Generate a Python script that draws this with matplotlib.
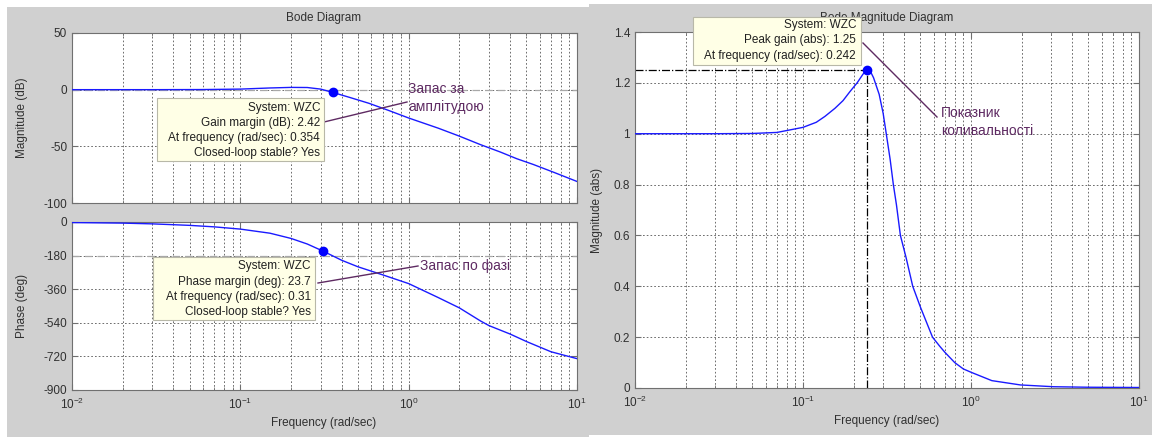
import matplotlib
matplotlib.use("Agg")
import matplotlib.pyplot as plt
from matplotlib.patches import Rectangle
from matplotlib.lines import Line2D
from matplotlib.ticker import FixedLocator, LogLocator, NullFormatter

plt.rcParams['font.family'] = ['Liberation Sans', 'DejaVu Sans']
plt.rcParams['mathtext.fontset'] = 'custom'
plt.rcParams['mathtext.rm'] = 'Liberation Sans'
plt.rcParams['axes.unicode_minus'] = False

# ---------------- data ----------------
mag_freq = [0.01, 0.03, 0.06, 0.1, 0.15, 0.2, 0.25, 0.3, 0.354, 0.45, 0.58, 0.75,
            1.0, 1.5, 2.0, 2.67, 3.5, 4.4, 5.5, 7.3, 10.0]
mag_db = [0, 0, 0.1, 0.5, 1.5, 2.0, 1.9, 0.5, -2.42, -7, -12, -18,
          -25, -34, -41, -48.5, -55, -61, -66, -73, -81]

ph_freq = [0.01, 0.02, 0.03, 0.05, 0.07, 0.1, 0.15, 0.2, 0.25, 0.31, 0.4, 0.5, 0.7,
           1.0, 1.5, 2.0, 2.67, 3.0, 4.0, 5.0, 7.0, 10.0]
ph_deg = [-3, -6, -10, -18, -26, -38, -60, -88, -118, -156, -205, -240, -283,
          -330, -405, -460, -530, -555, -600, -640, -695, -732]

cl_freq = [0.01, 0.03, 0.05, 0.07, 0.1, 0.12, 0.135, 0.155, 0.173, 0.19, 0.21, 0.228,
           0.242, 0.252, 0.263, 0.284, 0.3, 0.313, 0.33, 0.345, 0.36, 0.38, 0.41,
           0.45, 0.5, 0.55, 0.59, 0.65, 0.7, 0.8, 0.9, 1.0, 1.33, 1.97, 3.1, 5.0, 10.0]
cl_abs = [1.0, 1.0, 1.001, 1.005, 1.025, 1.045, 1.068, 1.10, 1.13, 1.165, 1.20, 1.235,
          1.25, 1.245, 1.22, 1.155, 1.08, 1.0, 0.9, 0.80, 0.72, 0.60, 0.515,
          0.40, 0.318, 0.25, 0.20, 0.165, 0.14, 0.10, 0.075, 0.062, 0.029, 0.012, 0.005, 0.003, 0.002]

gm_point = (0.354, -2.42)
pm_point = (0.31, -156.3)
peak_point = (0.242, 1.25)

mag_yticks = [-100, -50, 0, 50]
ph_yticks = [-900, -720, -540, -360, -180, 0]
abs_yticks = [0, 0.2, 0.4, 0.6, 0.8, 1.0, 1.2, 1.4]
abs_yticklabels = ['0', '0.2', '0.4', '0.6', '0.8', '1', '1.2', '1.4']
xticks = [0.01, 0.1, 1, 10]
xticklabels = [r'$10^{-2}$', r'$10^{-1}$', r'$10^{0}$', r'$10^{1}$']

gm_tip = ['System: WZC', 'Gain margin (dB): 2.42', 'At frequency (rad/sec): 0.354', 'Closed-loop stable? Yes']
pm_tip = ['System: WZC', 'Phase margin (deg): 23.7', 'At frequency (rad/sec): 0.31', 'Closed-loop stable? Yes']
pk_tip = ['System: WZC', 'Peak gain (abs): 1.25', 'At frequency (rad/sec): 0.242']

# ---------------- layout ----------------
W, H = 1152, 437
fig = plt.figure(figsize=(W / 100, H / 100), dpi=100, facecolor='white')

def fx(x):
    return x / W

def fy(y):
    return 1 - y / H

def rect(x0, y0, x1, y1):
    return [fx(x0), fy(y1), (x1 - x0) / W, (y1 - y0) / H]

BG = '#d0d0d0'
fig.patches.append(Rectangle((fx(7), fy(437)), (589 - 7) / W, (437 - 7) / H,
                             transform=fig.transFigure, facecolor=BG, edgecolor='none', zorder=-5))
fig.patches.append(Rectangle((fx(589), fy(435)), (W - 589) / W, (435 - 4) / H,
                             transform=fig.transFigure, facecolor=BG, edgecolor='none', zorder=-5))

ax1 = fig.add_axes(rect(72, 33, 577, 203))
ax2 = fig.add_axes(rect(72, 222, 577, 390))
ax3 = fig.add_axes(rect(635, 32, 1139, 388))

TXT = '#303030'
GRID = dict(color='#555555', linestyle=(0, (2, 2.5)), linewidth=0.6)
LINE = '#1a1aff'

for ax in (ax1, ax2, ax3):
    ax.set_xscale('log')
    ax.set_xlim(0.01, 10)
    ax.set_facecolor('white')
    for s in ax.spines.values():
        s.set_color('#707070')
        s.set_linewidth(0.8)
    ax.xaxis.set_major_locator(FixedLocator(xticks))
    ax.xaxis.set_minor_locator(LogLocator(base=10, subs=range(2, 10)))
    ax.xaxis.set_minor_formatter(NullFormatter())
    ax.set_xticklabels(xticklabels)
    ax.tick_params(which='both', direction='in', top=True, right=True, colors='#707070',
                   labelcolor=TXT, labelsize=8.5)
    ax.tick_params(which='major', length=4)
    ax.tick_params(which='minor', length=2)
    ax.tick_params(axis='x', pad=5)
    ax.grid(True, which='major', axis='both', **GRID)
    ax.grid(True, which='minor', axis='x', **GRID)
    ax.set_axisbelow(True)

ax1.tick_params(axis='x', labelbottom=False)

# top: magnitude dB
ax1.set_ylim(-100, 50)
ax1.set_yticks(mag_yticks)
ax1.axhline(0, color='#a8a8a8', linestyle=(0, (6, 4)), linewidth=0.9, zorder=1.5)
ax1.plot(mag_freq, mag_db, color=LINE, linewidth=1.0, zorder=3)
ax1.plot([gm_point[0]], [gm_point[1]], 'o', color='#0000ff', markersize=6, zorder=4)

# bottom: phase
ax2.set_ylim(-900, 0)
ax2.set_yticks(ph_yticks)
ax2.axhline(-180, color='#a8a8a8', linestyle=(0, (6, 4)), linewidth=0.9, zorder=1.5)
ax2.plot(ph_freq, ph_deg, color=LINE, linewidth=1.0, zorder=3)
ax2.plot([pm_point[0]], [pm_point[1]], 'o', color='#0000ff', markersize=6, zorder=4)

# right: closed loop magnitude
ax3.set_ylim(0, 1.4)
ax3.set_yticks(abs_yticks)
ax3.set_yticklabels(abs_yticklabels)
ax3.plot([0.01, peak_point[0]], [peak_point[1], peak_point[1]], color='black',
         linestyle='-.', linewidth=0.9, zorder=2.5)
ax3.plot([peak_point[0], peak_point[0]], [0, peak_point[1]], color='black',
         linestyle='-.', linewidth=0.9, zorder=2.5)
ax3.plot(cl_freq, cl_abs, color=LINE, linewidth=1.0, zorder=3)
ax3.plot([peak_point[0]], [peak_point[1]], 'o', color='#0000ff', markersize=6, zorder=4)

# titles and labels
fig.text(fx(324), fy(18), 'Bode Diagram', ha='center', va='center', fontsize=8.5, color=TXT, zorder=1)
fig.text(fx(887), fy(18), 'Bode Magnitude Diagram', ha='center', va='center', fontsize=8.5, color=TXT, zorder=1)
fig.text(fx(22), fy(118), 'Magnitude (dB)', rotation=90, ha='center', va='center', fontsize=8.5, color=TXT)
fig.text(fx(22), fy(306), 'Phase (deg)', rotation=90, ha='center', va='center', fontsize=8.5, color=TXT)
fig.text(fx(597), fy(210), 'Magnitude (abs)', rotation=90, ha='center', va='center', fontsize=8.5, color=TXT)
fig.text(fx(324), fy(423), 'Frequency (rad/sec)', ha='center', va='center', fontsize=8.5, color=TXT)
fig.text(fx(887), fy(421), 'Frequency (rad/sec)', ha='center', va='center', fontsize=8.5, color=TXT)

# data tips
def datatip(x0, y0, x1, y1, lines, ys, xr):
    fig.patches.append(Rectangle((fx(x0), fy(y1)), (x1 - x0) / W, (y1 - y0) / H,
                                 transform=fig.transFigure, facecolor='#ffffe6',
                                 edgecolor='#b8b8a8', linewidth=0.8, zorder=10))
    for t, y in zip(lines, ys):
        fig.text(fx(xr), fy(y), t, ha='right', va='center', fontsize=8.5, color='#202020', zorder=11)

PURPLE = '#5e2a62'

def connector(x0, y0, x1, y1):
    fig.add_artist(Line2D([fx(x0), fx(x1)], [fy(y0), fy(y1)], transform=fig.transFigure,
                          color=PURPLE, linewidth=1.0, zorder=9))

datatip(157, 98, 324, 161, gm_tip, [108, 123, 138, 153], 320)
connector(324, 122, 407, 102)
fig.text(fx(408), fy(89), 'Запас за', ha='left', va='center', fontsize=10, color=PURPLE, zorder=11)
fig.text(fx(408), fy(107), 'амплітудою', ha='left', va='center', fontsize=10, color=PURPLE, zorder=11)

datatip(153, 257, 315, 320, pm_tip, [266, 281.5, 297, 312.5], 311)
connector(318, 283, 418, 266)
fig.text(fx(420), fy(266), 'Запас по фазі', ha='left', va='center', fontsize=10, color=PURPLE, zorder=11)

datatip(693, 17, 861, 65, pk_tip, [25, 40, 56], 856)
connector(863, 43, 937, 117)
fig.text(fx(941), fy(113), 'Показник', ha='left', va='center', fontsize=10, color=PURPLE, zorder=11)
fig.text(fx(941), fy(131), 'коливальності', ha='left', va='center', fontsize=10, color=PURPLE, zorder=11)

fig.savefig('out.png', dpi=100, facecolor='white')
